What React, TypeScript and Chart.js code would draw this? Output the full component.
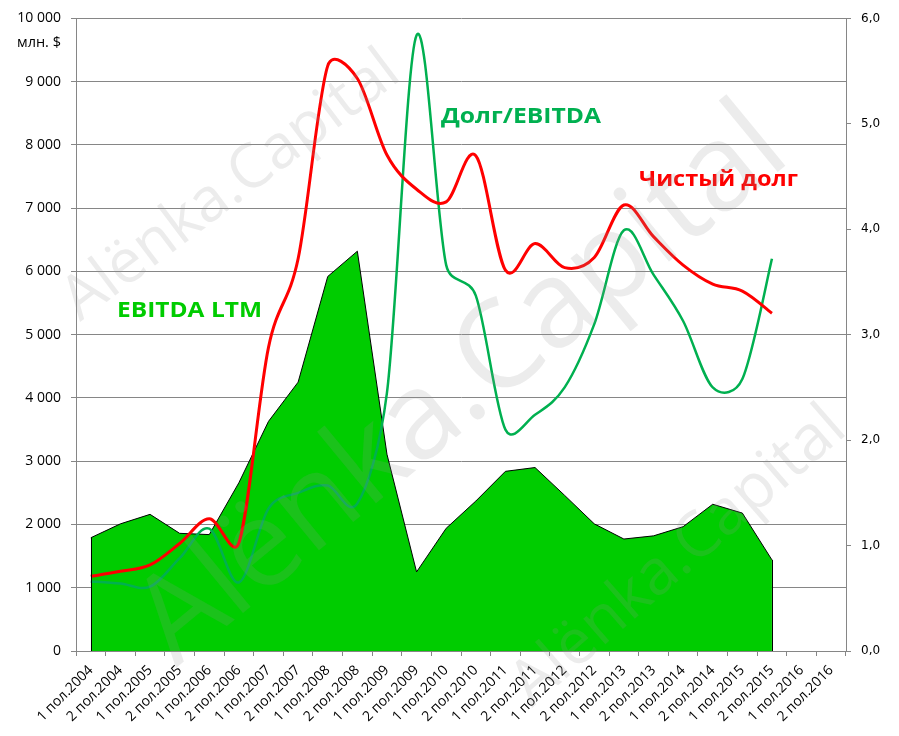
import { useEffect, useRef } from "react";
import { Chart, registerables } from "chart.js";

Chart.register(...registerables);

const categories = [
  "1 пол.2004", "2 пол.2004", "1 пол.2005", "2 пол.2005", "1 пол.2006", "2 пол.2006",
  "1 пол.2007", "2 пол.2007", "1 пол.2008", "2 пол.2008", "1 пол.2009", "2 пол.2009",
  "1 пол.2010", "2 пол.2010", "1 пол.2011", "2 пол.2011", "1 пол.2012", "2 пол.2012",
  "1 пол.2013", "2 пол.2013", "1 пол.2014", "2 пол.2014", "1 пол.2015", "2 пол.2015",
  "1 пол.2016", "2 пол.2016",
];

// EBITDA LTM, млн. $ (left axis)
const ebitdaLtm = [
  1790, 2010, 2160, 1860, 1840, 2660, 3630, 4250, 5920, 6320, 3110, 1250,
  1940, 2370, 2840, 2900, 2460, 2010, 1770, 1820, 1965, 2320, 2180, 1440, null, null,
];

// Чистый долг, млн. $ (left axis)
const netDebt = [
  1180, 1260, 1360, 1700, 2090, 1710, 4800, 6200, 9250, 9050, 7840, 7300,
  7100, 7830, 6020, 6440, 6060, 6220, 7050, 6550, 6100, 5800, 5690, 5340, null, null,
];

// Долг/EBITDA (right axis)
const debtToEbitda = [
  0.66, 0.64, 0.61, 0.88, 1.16, 0.65, 1.35, 1.5, 1.57, 1.4, 2.45, 5.84,
  3.66, 3.37, 2.1, 2.24, 2.5, 3.1, 3.99, 3.57, 3.13, 2.5, 2.58, 3.72, null, null,
];

const leftTicks = { min: 0, max: 10000, step: 1000 };
const rightTicks = { min: 0, max: 6, step: 1 };

const unitLabel = "млн. $";
const labelEbitda = "EBITDA LTM";
const labelRatio = "Долг/EBITDA";
const labelDebt = "Чистый долг";
const watermarkText = "Alënka.Capital";

const GRID = "#868686";
const FONT = "'Open Sans', 'Noto Sans', sans-serif";

function fmtThousands(v: number) {
  return String(v).replace(/\B(?=(\d{3})+(?!\d))/g, " ");
}

function drawFitted(
  ctx: CanvasRenderingContext2D,
  text: string,
  x: number,
  y: number,
  font: string,
  color: string,
  width: number
) {
  ctx.save();
  ctx.font = font;
  ctx.fillStyle = color;
  ctx.textAlign = "left";
  ctx.textBaseline = "alphabetic";
  const w = ctx.measureText(text).width;
  ctx.translate(x, y);
  ctx.scale(width / w, 1);
  ctx.fillText(text, 0, 0);
  ctx.restore();
}

function drawWatermark(
  ctx: CanvasRenderingContext2D,
  x: number,
  y: number,
  angleDeg: number,
  width: number,
  size: number
) {
  ctx.save();
  ctx.font = `${size}px ${FONT}`;
  ctx.fillStyle = "rgba(150,150,150,0.18)";
  ctx.textAlign = "left";
  ctx.textBaseline = "alphabetic";
  const w = ctx.measureText(watermarkText).width;
  ctx.translate(x, y);
  ctx.rotate((angleDeg * Math.PI) / 180);
  ctx.scale(width / w, 1);
  ctx.fillText(watermarkText, 0, 0);
  ctx.restore();
}

// Excel-like smoothing: Catmull-Rom tangents (1/6) with arms capped at half the segment
const smoothPlugin = {
  id: "excelSmooth",
  beforeDatasetsDraw(chart: any) {
    [0, 1].forEach((di) => {
      const meta = chart.getDatasetMeta(di);
      const line = meta.dataset;
      if (!line) return;
      line.updateControlPoints(chart.chartArea, "x");
      const pts = meta.data.filter((p: any) => !p.skip);
      for (let i = 0; i < pts.length; i++) {
        const p = pts[i];
        const prev = pts[i - 1] || p;
        const next = pts[i + 1] || p;
        const tx = (next.x - prev.x) / 6;
        const ty = (next.y - prev.y) / 6;
        const tl = Math.hypot(tx, ty) || 1;
        const dPrev = Math.hypot(p.x - prev.x, p.y - prev.y);
        const dNext = Math.hypot(next.x - p.x, next.y - p.y);
        const aIn = Math.min(tl, dPrev / 2) / tl;
        const aOut = Math.min(tl, dNext / 2) / tl;
        p.cp1x = p.x - tx * aIn;
        p.cp1y = p.y - ty * aIn;
        p.cp2x = p.x + tx * aOut;
        p.cp2y = p.y + ty * aOut;
      }
      line._path = undefined;
    });
  },
};

const decorPlugin = {
  id: "decor",
  afterDatasetsDraw(chart: any) {
    const ctx: CanvasRenderingContext2D = chart.ctx;
    const meta = chart.getDatasetMeta(2);
    const yScale = chart.scales.y;
    const pts = meta.data.filter((p: any, i: number) => ebitdaLtm[i] !== null);
    if (pts.length) {
      const base = yScale.getPixelForValue(0);
      ctx.save();
      ctx.strokeStyle = "#000";
      ctx.lineWidth = 1;
      ctx.beginPath();
      const f = pts[0];
      const l = pts[pts.length - 1];
      ctx.moveTo(Math.round(f.x) + 0.5, f.y);
      ctx.lineTo(Math.round(f.x) + 0.5, base);
      ctx.moveTo(Math.round(l.x) + 0.5, l.y);
      ctx.lineTo(Math.round(l.x) + 0.5, base);
      ctx.stroke();
      ctx.restore();
    }
  },
  afterDraw(chart: any) {
    const ctx: CanvasRenderingContext2D = chart.ctx;
    drawFitted(ctx, unitLabel, 17, 47, `14px ${FONT}`, "#000", 44);
    drawFitted(ctx, labelEbitda, 117, 317, `bold 22px ${FONT}`, "#00CC00", 145);
    drawFitted(ctx, labelRatio, 441, 123, `bold 22px ${FONT}`, "#00B050", 160);
    drawFitted(ctx, labelDebt, 639, 186, `bold 22px ${FONT}`, "#FF0000", 159);
    drawWatermark(ctx, 80, 322, -37, 405, 61);
    drawWatermark(ctx, 176, 668, -39.5, 800, 122);
    drawWatermark(ctx, 532, 708, -41, 420, 63);
  },
};

export default function App() {
  const ref = useRef<HTMLCanvasElement>(null);

  useEffect(() => {
    if (!ref.current) return;
    const chart = new Chart(ref.current, {
      type: "line",
      data: {
        labels: categories,
        datasets: [
          {
            label: labelDebt,
            data: netDebt,
            yAxisID: "y",
            borderColor: "#FF0000",
            borderWidth: 3,
            tension: 0.4,
            pointRadius: 0,
            fill: false,
            order: 1,
          },
          {
            label: labelRatio,
            data: debtToEbitda,
            yAxisID: "y1",
            borderColor: "#00B050",
            borderWidth: 2.5,
            tension: 0.4,
            pointRadius: 0,
            fill: false,
            order: 2,
          },
          {
            label: labelEbitda,
            data: ebitdaLtm,
            yAxisID: "y",
            borderColor: "#000000",
            borderWidth: 1,
            backgroundColor: "#00CC00",
            tension: 0,
            pointRadius: 0,
            fill: "origin",
            order: 3,
          },
        ],
      },
      options: {
        responsive: false,
        devicePixelRatio: 1,
        animation: false,
        events: [],
        layout: { padding: { top: 14, left: 0, right: 0, bottom: 0 } },
        plugins: {
          legend: { display: false },
          tooltip: { enabled: false },
        },
        scales: {
          x: {
            offset: true,
            grid: {
              offset: true,
              drawOnChartArea: false,
              drawTicks: true,
              tickLength: 5,
              color: GRID,
            },
            border: { color: GRID },
            ticks: {
              autoSkip: false,
              minRotation: 45,
              maxRotation: 45,
              padding: 6,
              color: "#000",
              font: { family: FONT, size: 14 },
            },
            afterFit: (s: any) => {
              s.height = 85;
            },
          },
          y: {
            position: "left",
            min: leftTicks.min,
            max: leftTicks.max,
            grid: { color: GRID, tickLength: 5, drawTicks: true },
            border: { color: GRID },
            ticks: {
              stepSize: leftTicks.step,
              padding: 10,
              color: "#000",
              font: { family: FONT, size: 14 },
              callback: (v: any) => fmtThousands(Number(v)),
            },
            afterFit: (s: any) => {
              s.width = 76;
            },
          },
          y1: {
            position: "right",
            min: rightTicks.min,
            max: rightTicks.max,
            grid: { drawOnChartArea: false, color: GRID, tickLength: 5 },
            border: { color: GRID },
            ticks: {
              stepSize: rightTicks.step,
              padding: 10,
              color: "#000",
              font: { family: "'DejaVu Sans', sans-serif", size: 12 },
              callback: (v: any) => Number(v).toFixed(1).replace(".", ","),
            },
            afterFit: (s: any) => {
              s.width = 53;
            },
          },
        },
      },
      plugins: [smoothPlugin, decorPlugin],
    } as any);
    return () => chart.destroy();
  }, []);

  return (
    <div
      style={{
        position: "fixed",
        left: 0,
        top: 0,
        width: 899,
        height: 736,
        background: "#ffffff",
      }}
    >
      <canvas ref={ref} width={899} height={736} style={{ display: "block", width: 899, height: 736 }} />
    </div>
  );
}
